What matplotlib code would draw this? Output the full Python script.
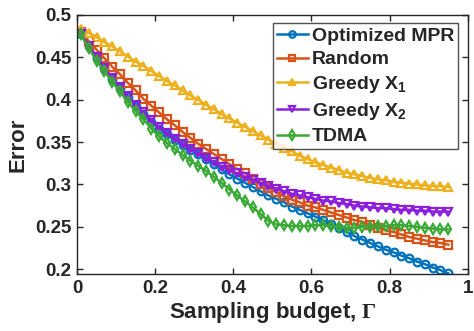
import matplotlib
matplotlib.use("Agg")
import matplotlib.pyplot as plt
import numpy as np

budget = [0.01, 0.03, 0.05, 0.07, 0.09, 0.11, 0.13, 0.15, 0.17, 0.19,
          0.21, 0.23, 0.25, 0.27, 0.29, 0.31, 0.33, 0.35, 0.37, 0.39,
          0.41, 0.43, 0.45, 0.47, 0.49, 0.51, 0.53, 0.55, 0.57, 0.59,
          0.61, 0.63, 0.65, 0.67, 0.69, 0.71, 0.73, 0.75, 0.77, 0.79,
          0.81, 0.83, 0.85, 0.87, 0.89, 0.91, 0.93, 0.95]

optimized_mpr = [0.478, 0.463, 0.449, 0.437, 0.425, 0.414, 0.403, 0.393, 0.383, 0.374,
                 0.366, 0.359, 0.353, 0.347, 0.341, 0.336, 0.330, 0.324, 0.318, 0.312,
                 0.307, 0.302, 0.297, 0.292, 0.287, 0.283, 0.279, 0.274, 0.270, 0.266,
                 0.262, 0.258, 0.253, 0.249, 0.244, 0.239, 0.235, 0.231, 0.227, 0.223,
                 0.220, 0.216, 0.213, 0.209, 0.206, 0.202, 0.199, 0.195]

random_sel = [0.480, 0.469, 0.459, 0.449, 0.439, 0.430, 0.420, 0.411, 0.401, 0.393,
              0.385, 0.377, 0.370, 0.362, 0.355, 0.348, 0.342, 0.336, 0.330, 0.324,
              0.318, 0.313, 0.307, 0.301, 0.296, 0.291, 0.286, 0.282, 0.279, 0.275,
              0.273, 0.270, 0.267, 0.264, 0.261, 0.258, 0.256, 0.252, 0.249, 0.246,
              0.244, 0.241, 0.238, 0.236, 0.234, 0.232, 0.231, 0.229]

greedy_x1 = [0.484, 0.479, 0.474, 0.468, 0.463, 0.457, 0.451, 0.445, 0.440, 0.434,
             0.428, 0.422, 0.417, 0.411, 0.405, 0.400, 0.394, 0.389, 0.383, 0.378,
             0.373, 0.368, 0.363, 0.358, 0.353, 0.348, 0.343, 0.339, 0.334, 0.330,
             0.326, 0.323, 0.320, 0.317, 0.314, 0.312, 0.310, 0.308, 0.306, 0.305,
             0.303, 0.302, 0.301, 0.300, 0.299, 0.298, 0.298, 0.297]

greedy_x2 = [0.478, 0.464, 0.451, 0.438, 0.426, 0.415, 0.404, 0.394, 0.385, 0.376,
             0.368, 0.361, 0.354, 0.348, 0.342, 0.337, 0.331, 0.326, 0.321, 0.317,
             0.313, 0.309, 0.305, 0.302, 0.298, 0.295, 0.292, 0.289, 0.287, 0.285,
             0.283, 0.281, 0.280, 0.278, 0.277, 0.275, 0.274, 0.273, 0.272, 0.272,
             0.271, 0.270, 0.270, 0.269, 0.269, 0.268, 0.268, 0.268]

tdma = [0.477, 0.461, 0.446, 0.434, 0.421, 0.410, 0.397, 0.387, 0.377, 0.366,
        0.357, 0.349, 0.342, 0.335, 0.328, 0.322, 0.316, 0.309, 0.302, 0.294,
        0.287, 0.280, 0.273, 0.265, 0.257, 0.253, 0.252, 0.251, 0.251, 0.251,
        0.252, 0.252, 0.251, 0.250, 0.249, 0.249, 0.250, 0.250, 0.251, 0.251,
        0.252, 0.252, 0.251, 0.250, 0.249, 0.248, 0.247, 0.247]

labels = ["Optimized MPR", "Random", r"Greedy X$_{\mathbf{1}}$",
          r"Greedy X$_{\mathbf{2}}$", "TDMA"]
x_ticks = [0, 0.2, 0.4, 0.6, 0.8, 1]
x_tick_labels = ["0", "0.2", "0.4", "0.6", "0.8", "1"]
y_ticks = [0.2, 0.25, 0.3, 0.35, 0.4, 0.45, 0.5]
y_tick_labels = ["0.2", "0.25", "0.3", "0.35", "0.4", "0.45", "0.5"]

plt.rcParams['font.family'] = ['Liberation Sans', 'DejaVu Sans']
plt.rcParams['font.weight'] = 'bold'
plt.rcParams['mathtext.fontset'] = 'custom'
plt.rcParams['mathtext.rm'] = 'Liberation Serif'
plt.rcParams['mathtext.bf'] = 'Liberation Sans:bold'
plt.rcParams['mathtext.it'] = 'Liberation Sans:bold'

fig = plt.figure(figsize=(4.74, 3.31), dpi=100)
ax = fig.add_axes([0.1624, 0.1713, 0.8246, 0.7834])

series = [optimized_mpr, random_sel, greedy_x1, greedy_x2, tdma]
colors = ["#0072BD", "#D95319", "#EDB120", "#8B1FDB", "#3AA935"]
markers = ["o", "s", "^", "v", "d"]

for ys, c, m, lab in zip(series, colors, markers, labels):
    ax.plot(budget, ys, color=c, marker=m, markersize=5.5, markeredgewidth=1.6,
            markerfacecolor='none', linewidth=1.8, label=lab)

ax.set_xlim(0, 1)
ax.set_ylim(0.194, 0.5)
ax.set_xticks(x_ticks)
ax.set_xticklabels(x_tick_labels)
ax.set_yticks(y_ticks)
ax.set_yticklabels(y_tick_labels)
ax.tick_params(direction='in', length=4, width=1, top=True, right=True,
               labelsize=13.5, colors='#262626', pad=4)
for lbl in ax.get_xticklabels() + ax.get_yticklabels():
    lbl.set_fontweight('bold')
for sp in ax.spines.values():
    sp.set_color('#262626')
    sp.set_linewidth(1.0)

ax.set_xlabel(r"Sampling budget, $\mathrm{\Gamma}$", fontsize=16, fontweight='bold',
              color='#262626', labelpad=2)
ax.set_ylabel("Error", fontsize=16, fontweight='bold', color='#262626', labelpad=5)

leg = ax.legend(loc='upper right', fontsize=14, frameon=True, fancybox=False,
                edgecolor='#262626', handlelength=1.6, handletextpad=0.2,
                labelspacing=0.3, borderpad=0.2, borderaxespad=0.3,
                bbox_to_anchor=(0.99, 0.99), markerscale=0.85)
leg.get_frame().set_linewidth(1.0)
for t in leg.get_texts():
    t.set_fontweight('bold')
    t.set_color('#262626')

fig.savefig("out.png", dpi=100)
